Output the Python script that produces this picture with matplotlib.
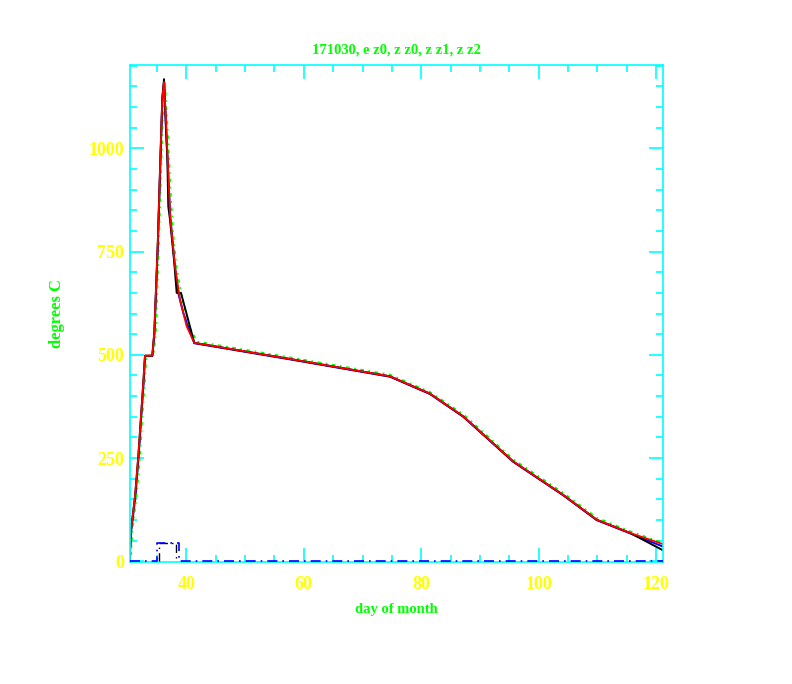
import matplotlib
matplotlib.use("Agg")
import matplotlib.pyplot as plt
from matplotlib.ticker import MultipleLocator

# temperature traces, days vs degrees C
black_x = [30.3, 30.56, 31.24, 31.80, 32.26, 32.65, 32.94, 34.18, 34.52, 35.10, 35.50, 35.89, 36.18,
           36.52, 36.74, 36.91, 37.20, 37.93, 38.34, 39.07, 41.34, 57.64, 74.68, 81.5, 87.17,
           95.68, 104.2, 109.9, 115.6, 121.2]
black_y = [0, 77, 157, 254, 351, 432, 498, 498, 553, 762, 948, 1122, 1167,
           1045, 980, 859, 827, 723, 650, 650, 529, 490, 448, 406, 351,
           242, 161, 101, 69, 27]

red_x = [30.3, 30.56, 31.24, 31.80, 32.26, 32.65, 32.94, 34.18, 34.52, 35.10, 35.50, 35.89, 36.18,
         36.6, 37.2, 38.05, 38.9, 40.04, 41.34, 57.64, 74.68, 81.5, 87.17,
         95.68, 104.2, 109.9, 115.6, 121.2]
red_y = [0, 77, 157, 254, 351, 432, 498, 498, 553, 762, 948, 1122, 1160,
         1045, 839, 714, 633, 569, 529, 490, 448, 406, 351,
         242, 161, 101, 69, 42]

blue_x = [30.3, 30.6, 31.3, 31.85, 32.3, 32.7, 32.96, 34.2, 34.55, 35.12, 35.52, 35.9, 36.2,
          36.55, 37.25, 38.0, 38.6, 39.5, 41.34, 57.64, 74.68, 81.5, 87.17,
          95.68, 104.2, 109.9, 115.6, 121.2]
blue_y = [0, 75, 155, 252, 349, 430, 497, 497, 550, 760, 945, 1118, 1162,
          1040, 835, 718, 650, 600, 528, 489, 447, 405, 350,
          241, 160, 100, 68, 36]

green_x = [30.5, 30.8, 31.5, 32.1, 32.5, 32.9, 33.2, 34.4, 34.8, 35.3, 35.7, 36.1, 36.35,
           36.8, 37.3, 37.7, 38.3, 39.3, 40.5, 41.8, 57.6, 74.7, 81.5, 87.2,
           95.7, 104.2, 109.9, 115.6, 121.2]
green_y = [0, 77, 157, 254, 351, 432, 498, 498, 553, 762, 948, 1122, 1160,
           1045, 900, 800, 714, 633, 569, 532, 494, 452, 410, 356,
           247, 166, 106, 73, 45]

# near-zero traces at the bottom
base_blue_x = [30.3, 35.07, 35.07, 38.65, 38.65, 121.2]
base_blue_y = [0, 0, 45, 45, 0, 0]
base_black_x = [35.4, 35.4, 38.3, 38.3]
base_black_y = [0, 45, 45, 0]

title = "171030, e z0, z z0, z z1, z z2"

CYAN = "#00FFFF"
YELLOW = "#FFFF00"
GREEN = "#00FF00"
FONT = "Liberation Serif"

fig = plt.figure(figsize=(7.92, 6.84), dpi=100)
ax = fig.add_axes([129.5 / 792, 1 - 562.3 / 684, 533.5 / 792, 497.6 / 684])

ax.plot(base_black_x, base_black_y, color="black", lw=1.0, ls=(0, (6, 3, 1, 3)),
        zorder=3, clip_on=False)
ax.plot(base_blue_x, base_blue_y, color="blue", lw=1.2, ls=(0, (6, 3, 1, 3)),
        zorder=3, clip_on=False)
ax.plot(blue_x, blue_y, color="blue", lw=1.4)
ax.plot(green_x, green_y, color=GREEN, lw=1.3, ls=(0, (1, 2.5, 2, 2.5)))
ax.plot(black_x, black_y, color="black", lw=1.4)
ax.plot(red_x, red_y, color="red", lw=1.3)

ax.set_xlim(30.3, 121.2)
ax.set_ylim(-2, 1202)

for s in ax.spines.values():
    s.set_color(CYAN)
    s.set_linewidth(1.2)

ax.xaxis.set_major_locator(MultipleLocator(20))
ax.xaxis.set_minor_locator(MultipleLocator(5))
ax.yaxis.set_major_locator(MultipleLocator(250))
ax.yaxis.set_minor_locator(MultipleLocator(50))

ax.tick_params(which="both", direction="in", color=CYAN, width=1.2,
               top=True, right=True)
ax.tick_params(which="major", length=10)
ax.tick_params(which="minor", length=5)
ax.tick_params(axis="x", which="major", pad=10, labelcolor=YELLOW)
ax.tick_params(axis="y", which="major", pad=4, labelcolor=YELLOW)

for lab in ax.get_xticklabels() + ax.get_yticklabels():
    lab.set_fontfamily(FONT)
    lab.set_fontweight("bold")
    lab.set_fontsize(13)

ax.set_title(title, color=GREEN, fontfamily=FONT, fontweight="bold",
             fontsize=10.5, pad=8)
ax.set_xlabel("day of month", color=GREEN, fontfamily=FONT,
              fontweight="bold", fontsize=10.5)
ax.set_ylabel("degrees C", color=GREEN, fontfamily=FONT,
              fontweight="bold", fontsize=12)
ax.xaxis.set_label_coords(0.5, -0.094)
ax.xaxis.label.set_va("center")
ax.yaxis.set_label_coords(-0.135, 0.5)
ax.yaxis.label.set_va("center")

fig.savefig("out.png", dpi=100, facecolor="white")
